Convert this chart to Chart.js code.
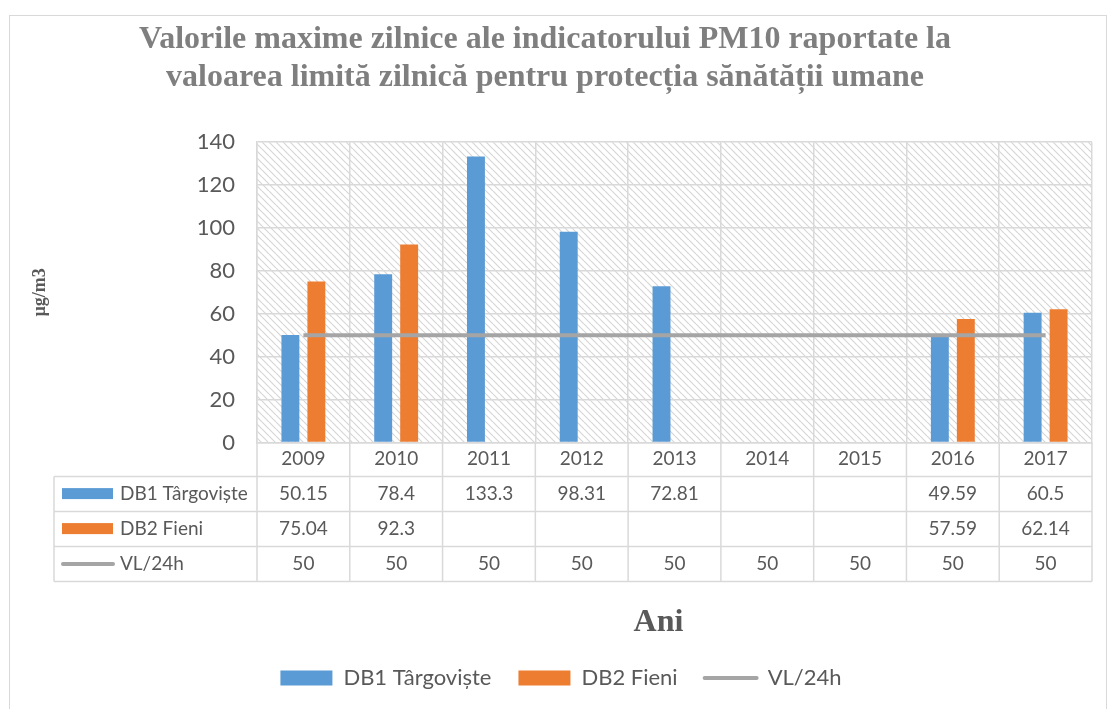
<!DOCTYPE html>
<html>
<head>
<meta charset="utf-8">
<script src="https://cdn.jsdelivr.net/npm/chart.js@4"></script>
<style>
  html, body { margin: 0; padding: 0; background: #fff; overflow: hidden; }
  #wrap {
    position: absolute; left: 9px; top: 15px;
    width: 1096px; height: 700px;
    border: 1px solid #d9d9d9;
  }
  canvas { display: block; }
</style>
</head>
<body>
<div id="wrap"><canvas id="chart" width="1096" height="693"></canvas></div>
<script>
/* ─── DATA ─── */
const years   = ['2009', '2010', '2011', '2012', '2013', '2014', '2015', '2016', '2017'];
const db1     = [50.15, 78.4, 133.3, 98.31, 72.81, null, null, 49.59, 60.5];
const db2     = [75.04, 92.3, null, null, null, null, null, 57.59, 62.14];
const vl24h   = [50, 50, 50, 50, 50, 50, 50, 50, 50];
const yTicks  = [0, 20, 40, 60, 80, 100, 120, 140];

const BLUE   = '#5b9bd5';
const ORANGE = '#ed7d31';
const GRAY   = '#a5a5a5';
const GRID   = '#d9d9d9';
const TEXT   = '#595959';
const SANS   = 'Lato';
const SERIF  = '"Liberation Serif", "Times New Roman", serif';
const NB     = '\u00a0';   // trailing spaces nudge centred titles left

/* ─── HATCH PATTERN ─── */
function makeHatch() {
  const s = 7;
  const c = document.createElement('canvas');
  c.width = s; c.height = s;
  const g = c.getContext('2d');
  g.strokeStyle = '#d6d6d6';
  g.lineWidth = 1.2;
  for (let k = -1; k <= 1; k++) {
    g.beginPath();
    g.moveTo(k * s, 0);
    g.lineTo(k * s + s, s);
    g.stroke();
  }
  return g.createPattern(c, 'repeat');
}

const hatchBg = {
  id: 'hatchBg',
  beforeDraw(chart) {
    const { ctx, chartArea: a } = chart;
    ctx.save();
    ctx.fillStyle = makeHatch();
    ctx.fillRect(a.left, a.top, a.right - a.left, a.bottom - a.top);
    ctx.restore();
  }
};

/* ─── DATA TABLE UNDER THE AXIS ─── */
const ROW_H = 35;
const dataTable = {
  id: 'dataTable',
  afterDraw(chart) {
    const { ctx, chartArea: a } = chart;
    const x = chart.scales.x;
    const n = years.length;
    const cw = (x.right - x.left) / n;
    const headLeft = 44;
    const r0 = a.bottom + 34;            // bottom of year row
    const rows = [
      { label: 'DB1 Târgoviște', data: db1, kind: 'bar', color: BLUE },
      { label: 'DB2 Fieni',      data: db2, kind: 'bar', color: ORANGE },
      { label: 'VL/24h',         data: vl24h, kind: 'line', color: GRAY }
    ];
    const bottom = r0 + rows.length * ROW_H;

    ctx.save();
    ctx.strokeStyle = GRID;
    ctx.lineWidth = 1.5;

    // vertical lines
    for (let i = 0; i <= n; i++) {
      const px = x.left + i * cw;
      ctx.beginPath();
      ctx.moveTo(px, a.bottom);
      ctx.lineTo(px, bottom);
      ctx.stroke();
    }
    ctx.beginPath();
    ctx.moveTo(headLeft, r0);
    ctx.lineTo(headLeft, bottom);
    ctx.stroke();

    // horizontal lines
    for (let r = 0; r <= rows.length; r++) {
      const py = r0 + r * ROW_H;
      ctx.beginPath();
      ctx.moveTo(headLeft, py);
      ctx.lineTo(x.right, py);
      ctx.stroke();
    }

    ctx.font = `19px ${SANS}`;
    ctx.textBaseline = 'middle';

    rows.forEach((row, r) => {
      const cy = r0 + r * ROW_H + ROW_H / 2;
      // row header marker
      if (row.kind === 'bar') {
        ctx.fillStyle = row.color;
        ctx.fillRect(headLeft + 8, cy - 6, 51, 11);
      } else {
        ctx.strokeStyle = row.color;
        ctx.lineWidth = 4;
        ctx.lineCap = 'round';
        ctx.beginPath();
        ctx.moveTo(headLeft + 9, cy);
        ctx.lineTo(headLeft + 59, cy);
        ctx.stroke();
      }
      ctx.fillStyle = TEXT;
      ctx.textAlign = 'left';
      ctx.fillText(row.label, headLeft + 66, cy);

      // values
      ctx.textAlign = 'center';
      row.data.forEach((v, i) => {
        if (v === null) return;
        ctx.fillText(String(v), x.getPixelForValue(i), cy);
      });
    });
    ctx.restore();
  }
};

/* ─── BUILD CHART ─── */
new Chart(document.getElementById('chart'), {
  type: 'bar',
  data: {
    labels: years,
    datasets: [
      {
        label: 'DB1 Târgoviște',
        data: db1,
        backgroundColor: BLUE,
        categoryPercentage: 0.56,
        barPercentage: 0.69,
        order: 1
      },
      {
        label: 'DB2 Fieni',
        data: db2,
        backgroundColor: ORANGE,
        categoryPercentage: 0.56,
        barPercentage: 0.69,
        order: 1
      },
      {
        label: 'VL/24h',
        type: 'line',
        data: vl24h,
        borderColor: GRAY,
        backgroundColor: GRAY,
        borderWidth: 4,
        pointRadius: 0,
        fill: false,
        order: 0
      }
    ]
  },
  options: {
    responsive: false,
    animation: false,
    layout: { padding: { left: 20, right: 14, top: 0, bottom: 10 } },
    plugins: {
      tooltip: { enabled: false },
      title: {
        display: true,
        text: ['Valorile maxime zilnice ale indicatorului PM10 raportate la' + NB.repeat(4),
               'valoarea limită zilnică pentru protecția sănătății umane' + NB.repeat(4)],
        color: '#7f7f7f',
        font: { family: SERIF, size: 32, weight: 'bold', lineHeight: 1.19 },
        padding: { top: 5, bottom: 45 }
      },
      legend: {
        position: 'bottom',
        labels: {
          color: TEXT,
          font: { family: SANS, size: 22 },
          usePointStyle: true,
          pointStyleWidth: 52,
          boxHeight: 15,
          padding: 27,
          generateLabels: () => [
            { text: 'DB1 Târgoviște', fillStyle: BLUE, strokeStyle: BLUE, lineWidth: 0, pointStyle: 'rect', fontColor: TEXT, datasetIndex: 0 },
            { text: 'DB2 Fieni', fillStyle: ORANGE, strokeStyle: ORANGE, lineWidth: 0, pointStyle: 'rect', fontColor: TEXT, datasetIndex: 1 },
            { text: 'VL/24h', fillStyle: GRAY, strokeStyle: GRAY, lineWidth: 4, lineCap: 'round', pointStyle: 'line', fontColor: TEXT, datasetIndex: 2 }
          ]
        }
      }
    },
    scales: {
      x: {
        offset: true,
        grid: { color: GRID, lineWidth: 1.5, offset: true, drawTicks: false },
        border: { color: GRID, width: 1.5 },
        ticks: { color: TEXT, font: { family: SANS, size: 19 }, padding: 5, maxRotation: 0 },
        title: {
          display: true,
          text: 'Ani' + NB.repeat(4),
          color: TEXT,
          font: { family: SERIF, size: 32, weight: 'bold', lineHeight: 1.05 },
          padding: { top: 131, bottom: 0 }
        }
      },
      y: {
        min: 0,
        max: 140,
        afterFit: (s) => { s.width = 227; },
        afterBuildTicks: (s) => { s.ticks = yTicks.map(v => ({ value: v })); },
        grid: { color: GRID, lineWidth: 1.5, drawTicks: false },
        border: { color: GRID, width: 1.5 },
        ticks: { color: TEXT, font: { family: SANS, size: 22 }, padding: 22 },
        title: {
          display: true,
          text: 'µg/m3',
          color: TEXT,
          font: { family: SERIF, size: 18, weight: 'bold', lineHeight: 1.2 },
          padding: 0
        }
      }
    }
  },
  plugins: [hatchBg, dataTable]
});
</script>
</body>
</html>
